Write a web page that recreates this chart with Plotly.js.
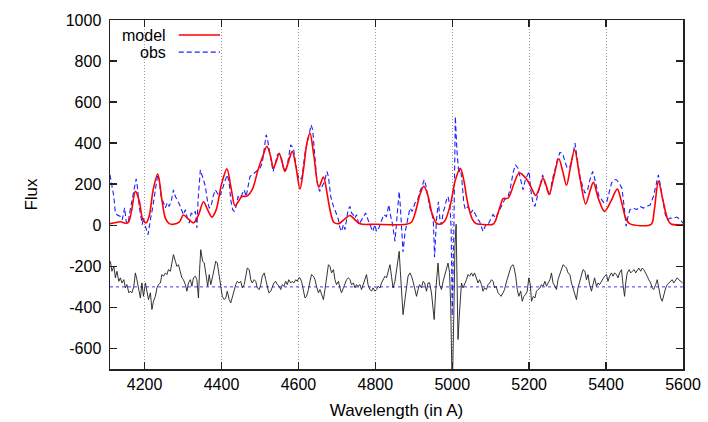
<!DOCTYPE html>
<html>
<head>
<meta charset="utf-8">
<script src="https://cdn.plot.ly/plotly-3.0.1.min.js"></script>
<style>html,body{margin:0;padding:0;background:#fff;}#chart{width:708px;height:422px;}</style>
</head>
<body>
<div id="chart"></div>
<script>
// Model (red solid)
const modelWave = [4110,4125,4137,4150,4158,4166,4176,4186,4195,4204,4212,4222,4234,4245,4254,4264,4275,4290,4301,4314,4327,4340,4353,4364,4375,4386,4400,4414,4425,4435,4445,4453,4466,4480,4495,4508,4518,4527,4535,4543,4550,4558,4565,4574,4584,4594,4604,4613,4622,4630,4640,4653,4665,4674,4682,4692,4705,4720,4734,4748,4760,4800,4880,4894,4905,4916,4926,4936,4947,4958,4967,4980,4995,5008,5021,5030,5037,5045,5052,5062,5075,5106,5112,5119,5126,5132,5145,5160,5174,5193,5205,5217,5227,5236,5244,5252,5264,5277,5287,5297,5307,5318,5332,5347,5357,5367,5380,5396,5412,5429,5440,5451,5461,5517,5525,5536,5548,5560,5569,5600];
const modelFlux = [8,14,17,10,15,70,165,120,30,12,45,170,250,124,35,8,5,15,50,30,12,50,115,75,40,75,200,275,180,95,120,140,142,175,270,340,385,340,280,315,350,305,262,310,360,280,176,270,400,449,340,186,235,160,76,15,8,30,48,25,7,5,5,15,70,150,190,150,60,12,5,20,100,220,278,220,140,70,30,8,5,5,20,60,100,130,132,200,255,225,185,145,185,230,195,150,235,324,265,195,280,368,230,104,160,209,130,68,115,176,115,35,8,5,70,214,120,30,6,3];

// Observed (blue dashed)
const obsWave = [4110,4120,4124,4129,4137,4142,4148,4152,4157,4161,4171,4178,4181,4186,4191,4194,4197,4202,4209,4212,4215,4220,4228,4234,4238,4243,4249,4254,4259,4264,4270,4275,4280,4285,4290,4296,4301,4306,4311,4316,4321,4327,4332,4336,4339,4345,4349,4353,4358,4363,4368,4373,4378,4384,4389,4394,4399,4404,4410,4415,4420,4424,4429,4433,4438,4443,4448,4453,4459,4464,4469,4474,4480,4485,4490,4495,4500,4506,4511,4516,4519,4524,4529,4534,4539,4545,4550,4555,4560,4565,4571,4576,4580,4587,4596,4602,4609,4617,4626,4633,4637,4642,4648,4655,4661,4668,4674,4678,4684,4691,4698,4704,4708,4712,4717,4721,4725,4729,4734,4738,4742,4747,4751,4757,4762,4768,4775,4781,4788,4793,4799,4803,4809,4816,4822,4829,4835,4839,4845,4851,4855,4859,4862,4865,4869,4872,4877,4881,4885,4890,4896,4903,4910,4916,4923,4927,4931,4936,4942,4947,4951,4954,4959,4964,4968,4972,4976,4981,4985,4989,4994,4997,5000,5004,5008,5012,5017,5021,5025,5030,5034,5041,5048,5054,5060,5067,5071,5076,5080,5087,5093,5099,5106,5113,5119,5128,5136,5145,5151,5158,5164,5171,5178,5184,5190,5196,5200,5204,5210,5215,5221,5228,5235,5241,5247,5254,5260,5267,5273,5280,5287,5293,5299,5306,5313,5319,5325,5332,5339,5345,5352,5358,5365,5369,5376,5382,5389,5395,5402,5408,5414,5420,5427,5434,5441,5447,5452,5456,5462,5471,5480,5488,5497,5506,5515,5523,5532,5536,5541,5548,5554,5560,5567,5575,5584,5593,5600];
const obsFlux = [246,140,60,50,43,27,85,20,8,60,158,226,190,92,36,3,36,-5,-46,-5,27,76,165,246,222,140,110,85,110,92,124,173,140,124,105,76,52,76,35,11,59,52,68,-13,124,270,246,214,190,124,84,92,140,173,157,140,157,190,222,246,205,124,76,68,92,140,132,149,173,140,190,238,246,254,262,270,278,303,368,441,424,368,303,262,295,343,351,335,286,262,295,351,392,376,262,222,230,351,432,489,465,343,214,165,190,214,262,238,140,92,60,27,-13,-30,3,-21,27,76,92,60,52,35,52,3,19,35,60,27,-13,-30,3,-30,-13,19,52,43,100,52,3,-78,3,76,165,92,-38,-130,-38,-5,43,84,68,108,124,165,197,222,197,140,84,60,11,-155,27,115,27,3,60,92,124,140,92,-10,-440,-40,530,368,254,278,222,108,76,92,60,76,52,27,19,-13,-30,3,3,27,52,35,60,92,124,140,181,254,295,278,222,173,222,246,262,173,108,92,140,205,246,205,173,149,222,270,319,355,351,311,278,286,335,400,327,238,190,157,173,222,262,238,181,140,124,108,116,157,205,222,222,205,181,92,-5,35,76,84,76,92,84,92,100,140,222,246,197,108,52,27,35,35,40,27,11];

// Residual (black, offset by -300)
const resWave = [4111,4115,4120,4124,4128,4133,4137,4141,4146,4150,4154,4159,4163,4167,4172,4176,4180,4184,4189,4193,4197,4202,4206,4210,4215,4219,4223,4228,4232,4236,4241,4245,4249,4254,4258,4262,4267,4271,4275,4280,4284,4288,4293,4297,4301,4306,4310,4314,4319,4323,4327,4332,4336,4340,4343,4346,4351,4355,4359,4364,4368,4372,4377,4381,4385,4389,4394,4398,4402,4407,4411,4415,4420,4424,4428,4433,4437,4441,4446,4450,4454,4459,4463,4467,4472,4476,4480,4485,4489,4493,4498,4502,4506,4511,4515,4519,4523,4528,4532,4536,4541,4545,4550,4554,4558,4562,4567,4571,4575,4580,4584,4588,4593,4597,4601,4604,4608,4613,4617,4621,4626,4630,4634,4639,4643,4647,4652,4656,4660,4665,4669,4673,4678,4682,4686,4691,4695,4699,4704,4708,4712,4717,4721,4725,4730,4734,4738,4743,4747,4751,4755,4760,4764,4768,4773,4777,4781,4786,4790,4794,4799,4803,4807,4812,4816,4820,4825,4829,4833,4838,4842,4846,4851,4855,4859,4862,4865,4869,4872,4877,4881,4885,4890,4894,4898,4903,4907,4911,4915,4920,4924,4928,4933,4937,4941,4946,4950,4953,4957,4963,4967,4972,4976,4982,4986,4989,4993,4996,4999,5001,5004,5007,5010,5012,5015,5018,5022,5024,5028,5032,5037,5041,5045,5050,5054,5058,5063,5067,5071,5076,5080,5084,5089,5093,5097,5102,5106,5110,5114,5119,5123,5127,5132,5136,5140,5145,5149,5153,5158,5160,5165,5169,5173,5178,5182,5186,5191,5195,5199,5203,5206,5211,5215,5219,5223,5228,5232,5236,5241,5245,5249,5254,5258,5262,5267,5271,5275,5280,5284,5288,5293,5297,5301,5306,5310,5314,5319,5323,5327,5332,5336,5340,5345,5349,5353,5357,5362,5366,5370,5375,5379,5383,5388,5392,5396,5401,5405,5409,5414,5418,5422,5427,5431,5435,5440,5444,5448,5451,5455,5460,5464,5468,5473,5477,5481,5485,5490,5494,5498,5503,5507,5511,5516,5520,5524,5529,5533,5537,5542,5546,5550,5555,5559,5563,5568,5572,5576,5581,5585,5589,5594,5599];
const resFlux = [-175,-224,-200,-256,-224,-273,-256,-281,-265,-305,-289,-329,-321,-329,-297,-232,-265,-305,-354,-281,-346,-281,-321,-362,-329,-410,-370,-346,-305,-289,-281,-240,-248,-232,-240,-216,-224,-184,-143,-175,-200,-192,-224,-256,-265,-289,-321,-281,-265,-297,-256,-248,-265,-354,-216,-119,-175,-184,-232,-297,-240,-289,-248,-200,-175,-184,-248,-313,-346,-362,-354,-321,-362,-378,-346,-321,-289,-273,-281,-273,-305,-289,-248,-208,-216,-265,-281,-265,-273,-305,-313,-289,-248,-232,-265,-297,-329,-321,-305,-281,-273,-289,-297,-313,-289,-297,-273,-289,-265,-281,-273,-281,-265,-273,-256,-256,-273,-321,-354,-346,-313,-273,-240,-248,-265,-297,-329,-313,-337,-362,-313,-265,-192,-200,-232,-216,-265,-289,-273,-305,-329,-305,-289,-265,-256,-265,-289,-281,-305,-289,-297,-289,-313,-289,-256,-240,-289,-313,-321,-305,-321,-313,-297,-305,-281,-265,-248,-256,-232,-192,-248,-305,-273,-216,-159,-127,-224,-346,-435,-362,-297,-248,-232,-248,-273,-313,-346,-313,-289,-305,-273,-280,-321,-281,-280,-330,-394,-459,-320,-184,-290,-313,-275,-232,-195,-184,-230,-394,-720,-720,-443,-102,5,-200,-556,-450,-290,-281,-305,-289,-265,-240,-248,-232,-248,-232,-256,-281,-265,-289,-321,-305,-313,-289,-281,-265,-273,-305,-297,-329,-337,-346,-329,-313,-281,-248,-216,-200,-192,-200,-248,-313,-346,-321,-370,-346,-337,-321,-256,-289,-370,-346,-354,-321,-313,-305,-289,-297,-273,-297,-281,-265,-232,-281,-297,-313,-265,-232,-208,-192,-200,-208,-232,-240,-281,-305,-337,-362,-305,-273,-248,-216,-224,-265,-240,-289,-321,-281,-256,-297,-281,-289,-273,-265,-248,-240,-273,-248,-232,-248,-232,-240,-256,-232,-216,-289,-346,-281,-232,-216,-232,-224,-216,-232,-216,-208,-224,-208,-216,-232,-248,-265,-281,-305,-313,-289,-265,-305,-354,-370,-337,-305,-289,-281,-273,-265,-281,-265,-256,-265,-273,-281];

// Reference level of the residual
const refWave = [4110, 5600];
const refFlux = [-300, -300];

// Tick labels
const xTickVals = [4200, 4400, 4600, 4800, 5000, 5200, 5400, 5600];
const xTickText = ['4200', '4400', '4600', '4800', '5000', '5200', '5400', '5600'];
const yTickVals = [-600, -400, -200, 0, 200, 400, 600, 800, 1000];
const yTickText = ['-600', '-400', '-200', '0', '200', '400', '600', '800', '1000'];

const FONT = 'Liberation Sans, Arial, Helvetica, sans-serif';

const traces = [
  {x: refWave, y: refFlux, mode: 'lines', line: {color: 'rgb(60,60,255)', width: 1, dash: '3px,3px'}, hoverinfo: 'skip', showlegend: false},
  {x: resWave, y: resFlux, mode: 'lines', line: {color: 'rgb(30,30,30)', width: 0.9}, showlegend: false},
  {x: obsWave, y: obsFlux, mode: 'lines', name: 'obs', line: {color: 'rgb(30,30,255)', width: 1.1, dash: '5px,3px'}, showlegend: false},
  {x: modelWave, y: modelFlux, mode: 'lines', name: 'model', line: {color: 'rgb(255,0,0)', width: 1.6, shape: 'spline', smoothing: 0.9}, showlegend: false}
];

const layout = {
  width: 708, height: 422,
  margin: {l: 110, r: 25, t: 20, b: 53},
  paper_bgcolor: '#fff', plot_bgcolor: '#fff',
  font: {family: FONT, size: 16, color: '#000'},
  showlegend: false,
  xaxis: {
    range: [4110, 5600], tickmode: 'array', tickvals: xTickVals, ticktext: xTickText,
    ticks: 'inside', ticklen: 7, tickwidth: 1.5, tickcolor: '#222',
    showline: true, linecolor: '#222', linewidth: 1.5, mirror: 'allticks',
    showgrid: true, gridcolor: '#999', gridwidth: 1, griddash: '1px,2px',
    zeroline: false,
    title: {text: 'Wavelength (in A)', font: {family: FONT, size: 17}, standoff: 12}
  },
  yaxis: {
    range: [-700, 1000], tickmode: 'array', tickvals: yTickVals, ticktext: yTickText,
    ticks: 'inside', ticklen: 7, tickwidth: 1.5, tickcolor: '#222',
    showline: true, linecolor: '#222', linewidth: 1.5, mirror: 'allticks',
    showgrid: false, zeroline: false, ticklabelstandoff: 4,
    title: {text: 'Flux', font: {family: FONT, size: 17}, standoff: 24}
  },
  annotations: [
    {xref: 'paper', yref: 'paper', x: 0.101, y: 0.957, xanchor: 'right', yanchor: 'middle', text: 'model', showarrow: false, font: {family: FONT, size: 16}},
    {xref: 'paper', yref: 'paper', x: 0.101, y: 0.908, xanchor: 'right', yanchor: 'middle', text: 'obs', showarrow: false, font: {family: FONT, size: 16}}
  ],
  shapes: [
    {type: 'line', xref: 'paper', yref: 'paper', x0: 0.120, x1: 0.192, y0: 0.957, y1: 0.957, line: {color: 'rgb(255,0,0)', width: 1.6}},
    {type: 'line', xref: 'paper', yref: 'paper', x0: 0.120, x1: 0.192, y0: 0.908, y1: 0.908, line: {color: 'rgb(30,30,255)', width: 1.1, dash: '5px,3px'}}
  ]
};

Plotly.newPlot('chart', traces, layout, {displayModeBar: false, staticPlot: true});
</script>
</body>
</html>
